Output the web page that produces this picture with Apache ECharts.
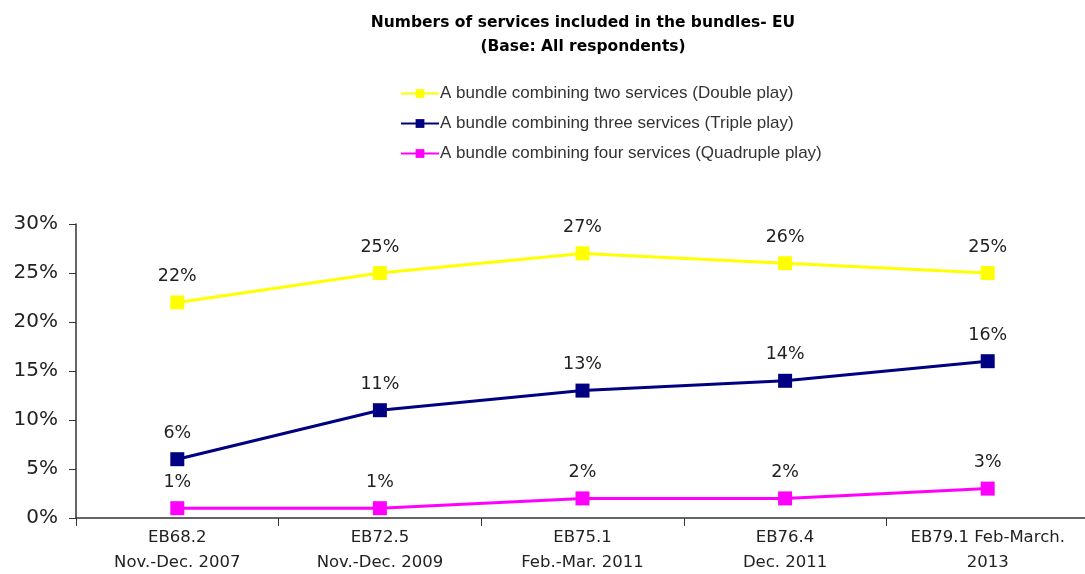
<!DOCTYPE html>
<html lang="en">
<head>
    <meta charset="UTF-8">
    <title>bundles_eu</title>
    <style type="text/css">
        html, body { margin: 0; padding: 0; background: #fff; }
        #box { width: 1085px; height: 574px; }
    </style>
</head>
<body>
<div id="box"></div>
<script type="text/javascript" src="https://cdn.jsdelivr.net/npm/echarts@6/dist/echarts.min.js"></script>
<script type="text/javascript">
    const categories = ['EB68.2\nNov.-Dec. 2007', 'EB72.5\nNov.-Dec. 2009', 'EB75.1\nFeb.-Mar. 2011', 'EB76.4\nDec. 2011', 'EB79.1 Feb-March.\n2013'];
    const seriesNames = ['A bundle combining two services (Double play)', 'A bundle combining three services (Triple play)', 'A bundle combining four services (Quadruple play)'];
    const doublePlay = [22, 25, 27, 26, 25];
    const triplePlay = [6, 11, 13, 14, 16];
    const quadruplePlay = [1, 1, 2, 2, 3];
    const colors = ['#ffff00', '#000080', '#ff00ff'];

    function makeSeries(name, data, color) {
        return {
            name: name,
            type: 'line',
            data: data,
            symbol: 'rect',
            symbolSize: 14,
            itemStyle: {color: color},
            lineStyle: {color: color, width: 3},
            label: {
                show: true,
                position: 'top',
                distance: 10,
                formatter: '{c}%',
                fontFamily: 'DejaVu Sans',
                fontSize: 17.5,
                color: '#222'
            }
        };
    }

    let myChart = echarts.init(document.getElementById('box'));
    let option = {
        animation: false,
        title: {
            text: 'Numbers of services included in the bundles- EU\n(Base: All respondents)',
            left: 578,
            textAlign: 'center',
            top: 6,
            textStyle: {fontFamily: 'DejaVu Sans', fontWeight: 'bold', fontSize: 15.5, lineHeight: 24, color: '#000'}
        },
        legend: {
            orient: 'vertical',
            left: 395,
            top: 80,
            itemGap: 13,
            itemWidth: 38,
            itemHeight: 11,
            data: seriesNames,
            textStyle: {fontFamily: 'Liberation Sans', fontSize: 17, color: '#333', padding: [0, 0, 0, -4]}
        },
        grid: {left: 76, top: 224, width: 1013, height: 294, outerBoundsMode: 'none'},
        xAxis: {
            type: 'category',
            data: categories,
            axisLine: {lineStyle: {color: '#333', width: 1.5}},
            axisTick: {show: true, interval: 0, length: 8, lineStyle: {color: '#333'}},
            axisLabel: {interval: 0, hideOverlap: false, fontFamily: 'DejaVu Sans', fontSize: 16.5, color: '#222', lineHeight: 25, margin: 7}
        },
        yAxis: {
            type: 'value',
            min: 0,
            max: 30,
            interval: 5,
            splitLine: {show: false},
            axisLine: {show: true, lineStyle: {color: '#333', width: 1.5}},
            axisTick: {show: true, length: 7, lineStyle: {color: '#333'}},
            axisLabel: {formatter: '{value}%', fontFamily: 'DejaVu Sans', fontSize: 20, color: '#222', margin: 18}
        },
        series: [
            makeSeries(seriesNames[0], doublePlay, colors[0]),
            makeSeries(seriesNames[1], triplePlay, colors[1]),
            makeSeries(seriesNames[2], quadruplePlay, colors[2])
        ]
    };
    myChart.setOption(option);
</script>
</body>
</html>
